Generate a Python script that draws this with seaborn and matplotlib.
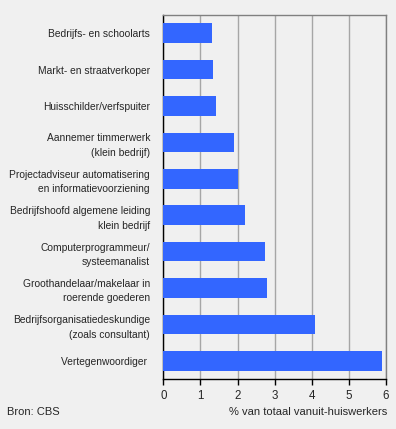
import pandas as pd
import seaborn as sns
import matplotlib.pyplot as plt

# categories (top to bottom) and values in % of all home workers
beroepen = [
    'Bedrijfs- en schoolarts',
    'Markt- en straatverkoper',
    'Huisschilder/verfspuiter',
    'Aannemer timmerwerk\n(klein bedrijf)',
    'Projectadviseur automatisering\nen informatievoorziening',
    'Bedrijfshoofd algemene leiding\nklein bedrijf',
    'Computerprogrammeur/\nsysteemanalist',
    'Groothandelaar/makelaar in\nroerende goederen',
    'Bedrijfsorganisatiedeskundige\n(zoals consultant)',
    'Vertegenwoordiger ',
]
percentages = [1.31, 1.34, 1.42, 1.91, 2.01, 2.20, 2.74, 2.80, 4.09, 5.89]
x_ticks = [0, 1, 2, 3, 4, 5, 6]

df = pd.DataFrame({'beroep': beroepen, 'pct': percentages})

sns.set_style('white')
plt.rcParams['font.family'] = ['Liberation Sans', 'DejaVu Sans']

bg = '#f0f0f0'
fig = plt.figure(figsize=(3.96, 4.29), dpi=100, facecolor=bg)
ax = fig.add_axes([0.4124, 0.1166, 0.5623, 0.8484], facecolor=bg)

sns.barplot(data=df, y='beroep', x='pct', color='#3366ff', saturation=1,
            width=0.54, orient='h', ax=ax, zorder=3, linewidth=0)

ax.set_xlim(0, 6)
ax.set_xticks(x_ticks)
ax.grid(axis='x', color='#a6a6a6', linewidth=1, zorder=0)
ax.set_axisbelow(True)

for side in ['top', 'right']:
    ax.spines[side].set_color('#808080')
    ax.spines[side].set_linewidth(1)
for side in ['left', 'bottom']:
    ax.spines[side].set_color('black')
    ax.spines[side].set_linewidth(1)

ax.tick_params(axis='x', bottom=True, length=4, width=1, color='black',
               labelsize=8.3, pad=4)
ax.tick_params(axis='y', left=False, labelsize=7.4, pad=6)
for lbl in ax.get_yticklabels():
    lbl.set_horizontalalignment('right')
    lbl.set_multialignment('right')
    lbl.set_linespacing(1.55)

ax.set_ylabel('')
ax.set_xlabel('% van totaal vanuit-huiswerkers', fontsize=8)
ax.xaxis.set_label_coords(1.005, -0.078)
ax.xaxis.label.set_horizontalalignment('right')

fig.text(7 / 396, 1 - 412 / 429, 'Bron: CBS', fontsize=8, va='center', ha='left')

plt.savefig('out.png', dpi=100, facecolor=bg)
